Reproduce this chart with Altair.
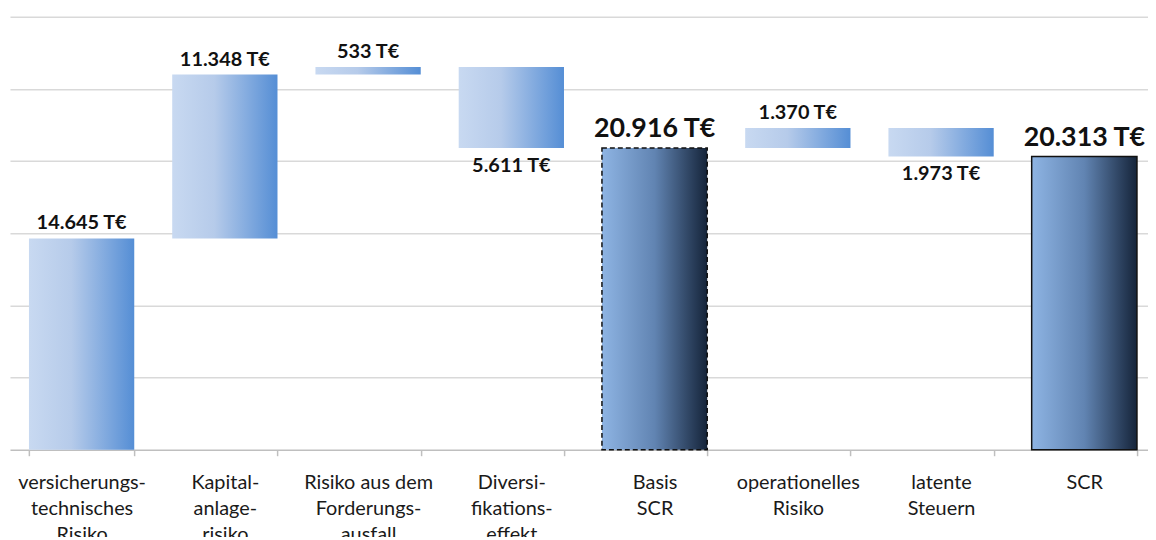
import altair as alt
import pandas as pd

categories = [
    "versicherungs-|technisches|Risiko",
    "Kapital-|anlage-|risiko",
    "Risiko aus dem|Forderungs-|ausfall",
    "Diversi-|fikations-|effekt",
    "Basis|SCR",
    "operationelles|Risiko",
    "latente|Steuern",
    "SCR",
]
starts = [0, 14645, 25993, 26526, 0, 20916, 22286, 0]
ends = [14645, 25993, 26526, 20915, 20916, 22286, 20313, 20313]
value_labels = ["14.645 T€", "11.348 T€", "533 T€", "5.611 T€",
                "20.916 T€", "1.370 T€", "1.973 T€", "20.313 T€"]
kinds = ["up", "up", "up", "down", "basis", "up", "down", "total"]

df = pd.DataFrame({
    "cat": categories,
    "start": starts,
    "end": ends,
    "label": value_labels,
    "kind": kinds,
})
df["top"] = df[["start", "end"]].max(axis=1)
df["bottom"] = df[["start", "end"]].min(axis=1)

FONT = "Lato"

xscale = alt.Scale(domain=categories,
                   paddingInner=0.265, paddingOuter=0.1325)
yscale = alt.Scale(domain=[0, 30000], nice=False, zero=True)

x_axis = alt.Axis(
    title=None,
    labelExpr="isValid(datum.value) && datum.value != '' ? split(datum.value, '|') : ''",
    labelFont=FONT, labelFontSize=20, labelColor="#1a1a1a",
    labelLineHeight=26, labelPadding=17, labelOverlap=False,
    labelLimit=0, labelAngle=0, labelBaseline="top",
    domainColor="#bfbfbf", domainWidth=1.5,
    tickColor="#bfbfbf", tickWidth=1.5, tickSize=6, tickBand="extent",
    grid=False,
)
y_axis = alt.Axis(
    title=None, labels=False, ticks=False, domain=False,
    grid=True, gridColor="#d9d9d9", gridWidth=1.5,
    values=[5000, 10000, 15000, 20000, 25000, 30000],
)

base = alt.Chart(df)

light_grad = alt.Gradient(
    gradient="linear", x1=0, y1=0, x2=1, y2=0,
    stops=[alt.GradientStop(color="#c8d9f1", offset=0),
           alt.GradientStop(color="#b6cbea", offset=0.4),
           alt.GradientStop(color="#558ed5", offset=1)],
)
dark_grad = alt.Gradient(
    gradient="linear", x1=0, y1=0, x2=1, y2=0,
    stops=[alt.GradientStop(color="#8eb4e3", offset=0),
           alt.GradientStop(color="#6184b2", offset=0.5),
           alt.GradientStop(color="#15243a", offset=1)],
)

xenc = alt.X("cat:N", scale=xscale, axis=x_axis, sort=categories)
yenc = alt.Y("start:Q", scale=yscale, axis=y_axis)

bars_inc = base.transform_filter(
    "datum.kind == 'up' || datum.kind == 'down'"
).mark_bar(color=light_grad).encode(x=xenc, y=yenc, y2="end:Q")

bars_basis = base.transform_filter("datum.kind == 'basis'").mark_bar(
    color=dark_grad, stroke="#111111", strokeWidth=1.5, strokeDash=[5, 3]
).encode(x=xenc, y=yenc, y2="end:Q")

bars_total = base.transform_filter("datum.kind == 'total'").mark_bar(
    color=dark_grad, stroke="#111111", strokeWidth=1.5
).encode(x=xenc, y=yenc, y2="end:Q")

txt_up = base.transform_filter("datum.kind == 'up'").mark_text(
    baseline="bottom", dy=-5, font=FONT, fontSize=20, fontWeight="bold",
    color="#111111"
).encode(x=xenc, y=alt.Y("top:Q", scale=yscale, axis=y_axis), text="label:N")

txt_down = base.transform_filter("datum.kind == 'down'").mark_text(
    baseline="top", dy=8, font=FONT, fontSize=20, fontWeight="bold",
    color="#111111"
).encode(x=xenc, y=alt.Y("bottom:Q", scale=yscale, axis=y_axis), text="label:N")

txt_total = base.transform_filter(
    "datum.kind == 'basis' || datum.kind == 'total'"
).mark_text(
    baseline="bottom", dy=-5, font=FONT, fontSize=27, fontWeight="bold",
    color="#111111"
).encode(x=xenc, y=alt.Y("top:Q", scale=yscale, axis=y_axis), text="label:N")

chart = alt.layer(
    bars_inc, bars_basis, bars_total, txt_up, txt_down, txt_total
).properties(
    width=1154, height=436,
    autosize=alt.AutoSizeParams(type="none"),
    padding={"left": 2, "top": 7, "right": -8, "bottom": 86},
    background="white",
).configure_view(stroke=None)

chart.save("out.html", embed_options={"renderer": "svg", "actions": False})
